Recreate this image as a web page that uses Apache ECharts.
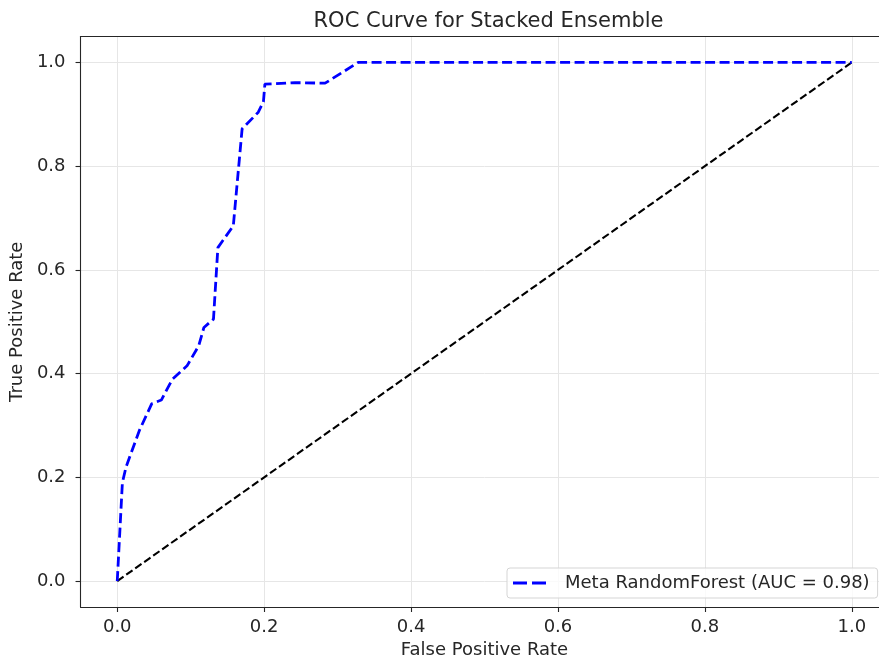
<!DOCTYPE html>
<html>
<head>
<meta charset="utf-8">
<script src="https://cdn.jsdelivr.net/npm/echarts@6/dist/echarts.min.js"></script>
<style>html,body{margin:0;padding:0;background:#fff;overflow:hidden;width:879px;height:664px}#c{width:890px;height:664px}</style>
</head>
<body>
<div id="c"></div>
<script>
var fpr = [0, 0.007, 0.012, 0.03, 0.047, 0.06, 0.075, 0.095, 0.111, 0.118, 0.131, 0.137, 0.158, 0.170, 0.192, 0.199, 0.201, 0.242, 0.283, 0.328, 1.0];
var tpr = [0, 0.19, 0.22, 0.29, 0.342, 0.349, 0.389, 0.415, 0.454, 0.489, 0.505, 0.643, 0.685, 0.872, 0.904, 0.924, 0.958, 0.961, 0.960, 1.0, 1.0];
var diagX = [0, 1];
var diagY = [0, 1];
var tickValues = [0, 0.2, 0.4, 0.6, 0.8, 1.0];
var titleText = 'ROC Curve for Stacked Ensemble';
var seriesName = 'Meta RandomForest (AUC = 0.98)';

var font = 'DejaVu Sans';
var ink = '#262626';
var chart = echarts.init(document.getElementById('c'), null, {renderer: 'canvas'});
function pairs(xs, ys) { return xs.map(function (x, i) { return [x, ys[i]]; }); }
function axisCommon(name, gap, labelMargin) {
  return {
    type: 'value', min: -0.05, max: 1.05,
    name: name, nameLocation: 'middle', nameGap: gap,
    nameTextStyle: {fontFamily: font, fontSize: 18, color: ink},
    axisLine: {show: true, onZero: false, lineStyle: {color: ink, width: 1.1}},
    axisTick: {show: true, inside: false, length: 5, lineStyle: {color: ink, width: 1.1}, customValues: tickValues},
    axisLabel: {fontFamily: font, fontSize: 18, color: ink, margin: labelMargin, customValues: tickValues,
      formatter: function (v) { return v.toFixed(1); }},
    splitLine: {show: true, lineStyle: {color: '#e6e6e6', width: 1}}
  };
}
var option = {
  animation: false,
  backgroundColor: '#fff',
  title: {text: titleText, left: 483.5, textAlign: 'center', top: 6,
    textStyle: {fontFamily: font, fontSize: 21, fontWeight: 'normal', color: ink}},
  grid: {left: 78.7, top: 36.5, right: 1.5, bottom: 57, containLabel: false},
  xAxis: [axisCommon('False Positive Rate', 33, 11), {type: 'value', position: 'top', min: -0.05, max: 1.05,
    axisLine: {show: true, onZero: false, lineStyle: {color: ink, width: 1.1}},
    axisTick: {show: false}, axisLabel: {show: false}, splitLine: {show: false}}],
  yAxis: axisCommon('True Positive Rate', 48, 15),
  legend: {
    left: 507, top: 568, orient: 'vertical',
    padding: [6, 8, 6, 6],
    borderColor: '#d5d5d5', borderWidth: 1, borderRadius: 3, backgroundColor: 'rgba(255,255,255,0.8)',
    itemWidth: 33, itemHeight: 3,
    textStyle: {fontFamily: font, fontSize: 18, color: ink, padding: [0, 0, 0, 14]},
    data: [{name: seriesName, icon: 'path://M0,0H14V3H0Z M19,0H33V3H19Z'}]
  },
  series: [
    {name: seriesName, type: 'line', data: pairs(fpr, tpr), symbol: 'none', z: 3,
      lineStyle: {color: '#0000ff', width: 2.8, type: [10, 4.5]}, itemStyle: {color: '#0000ff'}},
    {name: 'diag', type: 'line', data: pairs(diagX, diagY), symbol: 'none', z: 2,
      lineStyle: {color: '#000', width: 2.1, type: [7.7, 3.3]}, itemStyle: {color: '#000'}}
  ]
};
chart.setOption(option);
</script>
</body>
</html>
